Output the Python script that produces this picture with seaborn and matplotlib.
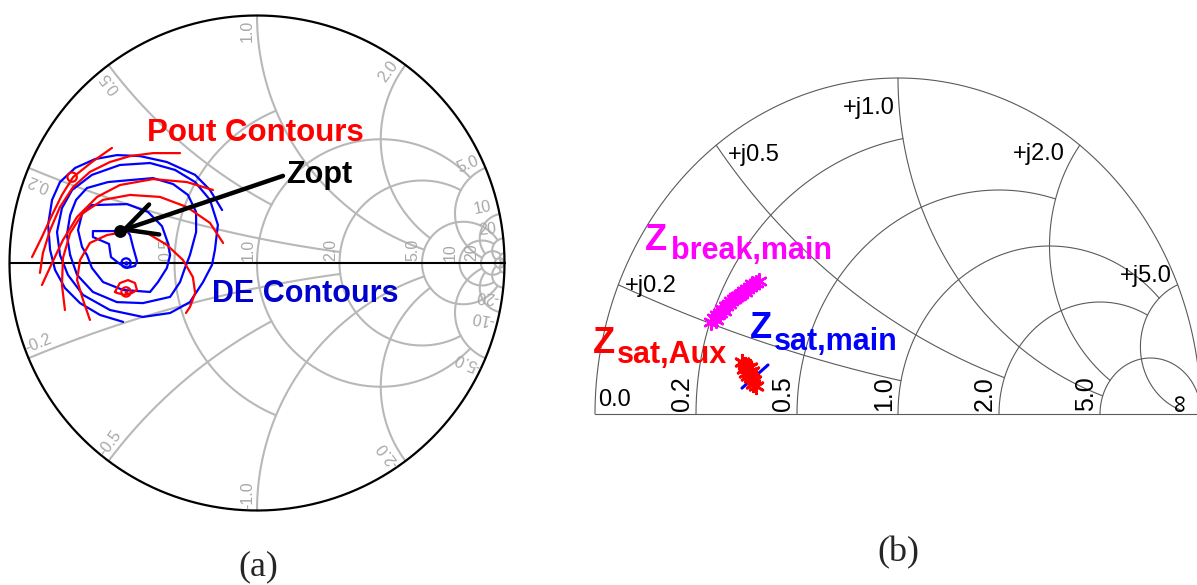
import numpy as np
import pandas as pd
import matplotlib
matplotlib.use("Agg")
import matplotlib.pyplot as plt
import seaborn as sns

sns.set_theme(style="white")
plt.rcParams["font.family"] = ["Liberation Sans", "DejaVu Sans"]

# ---------------- (a) load-pull smith chart ----------------
# grid circles and the value of the other family where each one stops
a_res_vals = [0.5, 1.0, 2.0, 5.0, 10.0, 20.0, 50.0]
a_res_stop = [1.0, 5.0, 5.0, 20.0, 20.0, 50.0, np.inf]
a_reac_vals = [0.2, 0.5, 1.0, 2.0, 5.0, 10.0, 20.0, 50.0]
a_reac_stop = [2.0, 1.0, 5.0, 5.0, 20.0, 20.0, 50.0, np.inf]
a_res_labels = ["0.5", "1.0", "2.0", "5.0", "10", "20"]
a_reac_up = ["0.2", "0.5", "1.0", "2.0", "5.0", "10", "20"]
a_reac_dn = ["-0.2", "-0.5", "-1.0", "-2.0", "-5.0", "-10", "-20"]

# contours as reflection coefficient (re, im)
de_1_re = [-0.554, -0.663, -0.663, -0.598, -0.590, -0.554, -0.525, -0.493, -0.485, -0.501, -0.513, -0.525]
de_1_im = [0.129, 0.129, 0.105, 0.077, 0.024, -0.004, -0.020, -0.012, 0.008, 0.065, 0.113, 0.129]
de_2_re = [-0.667, -0.525, -0.440, -0.384, -0.360, -0.351, -0.364, -0.400, -0.432, -0.541, -0.622, -0.667, -0.687, -0.707, -0.723, -0.707, -0.667]
de_2_im = [0.234, 0.238, 0.206, 0.149, 0.081, 0.032, -0.020, -0.077, -0.117, -0.109, -0.077, -0.020, 0.032, 0.065, 0.133, 0.198, 0.234]
de_3_re = [-0.755, -0.768, -0.755, -0.731, -0.687, -0.602, -0.513, -0.420, -0.339, -0.279, -0.246, -0.246, -0.271, -0.291, -0.311, -0.351, -0.461, -0.566, -0.663, -0.727, -0.755]
de_3_im = [0.032, 0.113, 0.194, 0.255, 0.303, 0.327, 0.335, 0.343, 0.319, 0.275, 0.206, 0.125, 0.032, -0.020, -0.077, -0.137, -0.162, -0.158, -0.117, -0.048, 0.032]
de_4_re = [-0.796, -0.808, -0.788, -0.747, -0.667, -0.554, -0.432, -0.331, -0.250, -0.190, -0.158, -0.170, -0.182, -0.218, -0.271, -0.351, -0.461, -0.594, -0.703, -0.764, -0.796]
de_4_im = [0.032, 0.125, 0.222, 0.295, 0.356, 0.396, 0.404, 0.376, 0.327, 0.255, 0.154, 0.053, -0.008, -0.077, -0.158, -0.202, -0.218, -0.190, -0.129, -0.048, 0.032]
de_5_re = [-0.141, -0.190, -0.250, -0.364, -0.473, -0.566, -0.654, -0.735, -0.796, -0.828, -0.844, -0.836, -0.816, -0.776, -0.715, -0.634, -0.541]
de_5_im = [0.214, 0.295, 0.356, 0.408, 0.432, 0.436, 0.420, 0.384, 0.327, 0.255, 0.154, 0.053, -0.028, -0.101, -0.162, -0.210, -0.238]

pout_1_re = [-0.574, -0.554, -0.521, -0.493, -0.485, -0.505, -0.533, -0.566, -0.574]
pout_1_im = [-0.117, -0.081, -0.069, -0.081, -0.109, -0.121, -0.129, -0.121, -0.117]
pout_2_re = [-0.675, -0.703, -0.727, -0.715, -0.675, -0.606, -0.513, -0.444, -0.364, -0.299, -0.259, -0.250, -0.271, -0.287]
pout_2_im = [-0.230, -0.149, -0.069, 0.012, 0.081, 0.113, 0.129, 0.121, 0.073, 0.012, -0.057, -0.121, -0.178, -0.202]
pout_3_re = [-0.137, -0.190, -0.283, -0.392, -0.513, -0.622, -0.703, -0.755, -0.784, -0.788, -0.776]
pout_3_im = [0.081, 0.162, 0.226, 0.267, 0.275, 0.255, 0.202, 0.121, 0.020, -0.089, -0.190]
pout_4_re = [-0.178, -0.283, -0.420, -0.554, -0.646, -0.727, -0.784, -0.828, -0.869]
pout_4_im = [0.295, 0.327, 0.339, 0.315, 0.267, 0.186, 0.093, 0.000, -0.089]
pout_5_re = [-0.311, -0.420, -0.513, -0.594, -0.675, -0.743, -0.796, -0.836, -0.865, -0.877]
pout_5_im = [0.444, 0.444, 0.432, 0.408, 0.368, 0.307, 0.226, 0.133, 0.040, -0.040]
pout_6_re = [-0.586, -0.667, -0.743, -0.788, -0.828, -0.869, -0.909]
pout_6_im = [0.465, 0.408, 0.347, 0.275, 0.194, 0.105, 0.024]

pout_rings_re = [-0.747, -0.529]
pout_rings_im = [0.347, -0.117]
de_ring_re = [-0.529]
de_ring_im = [0.0]
zopt_re = [-0.554]
zopt_im = [0.129]

# ---------------- (b) impedance trajectories ----------------
b_vals = [0.2, 0.5, 1.0, 2.0, 5.0]
b_stop = [1.0, 2.0, 5.0, 5.0, 30.0]
b_res_labels = ["0.2", "0.5", "1.0", "2.0", "5.0"]
b_reac_labels = ["+j0.2", "+j0.5", "+j1.0", "+j2.0", "+j5.0"]

zbreak_re = [-0.617, -0.607, -0.597, -0.587, -0.581, -0.568, -0.558, -0.551, -0.541, -0.528, -0.518,
             -0.508, -0.498, -0.488, -0.479, -0.469, -0.459, -0.601, -0.574, -0.535, -0.505, -0.482]
zbreak_im = [0.274, 0.286, 0.295, 0.301, 0.312, 0.321, 0.327, 0.336, 0.342, 0.351, 0.357,
             0.366, 0.372, 0.378, 0.384, 0.390, 0.396, 0.280, 0.307, 0.348, 0.363, 0.387]
zsat_aux_re = [-0.515, -0.505, -0.498, -0.508, -0.492, -0.482, -0.495, -0.485, -0.475, -0.479, -0.469, -0.502, -0.488]
zsat_aux_im = [0.155, 0.146, 0.137, 0.134, 0.125, 0.128, 0.113, 0.107, 0.101, 0.089, 0.083, 0.122, 0.140]
zsat_main_re = [-0.515, -0.429]
zsat_main_im = [0.077, 0.146]


def gamma(z):
    return (z - 1) / (z + 1)


def res_arc(r, stop, upper=False):
    top = min(np.arctan(stop), np.pi / 2 - 1e-4)
    t = np.linspace(0 if upper else -top, top, 600)
    g = gamma(r + 1j * np.tan(t))
    return g.real, g.imag


def reac_arc(x, stop):
    top = min(np.arctan(stop), np.pi / 2 - 1e-4)
    t = np.linspace(0, top, 600)
    g = gamma(np.tan(t) + 1j * x)
    return g.real, g.imag


W, H = 1197, 585
fig = plt.figure(figsize=(W / 100, H / 100), dpi=100)
fig.patch.set_facecolor("white")

# panel (a) axes, unit circle centred at px (257, 263), radius 247.5 px
R_a, cx_a, cy_a, m = 247.5, 257, 263, 1.035
ax_a = fig.add_axes([(cx_a - R_a * m) / W, (H - cy_a - R_a * m) / H, 2 * R_a * m / W, 2 * R_a * m / H])
ax_a.set_xlim(-m, m)
ax_a.set_ylim(-m, m)
ax_a.axis("off")

grid_a = "#b8b8b8"
for r, s in zip(a_res_vals, a_res_stop):
    gx, gy = res_arc(r, s)
    ax_a.plot(gx, gy, color=grid_a, lw=1.5, zorder=1)
for x, s in zip(a_reac_vals, a_reac_stop):
    gx, gy = reac_arc(x, s)
    ax_a.plot(gx, gy, color=grid_a, lw=1.5, zorder=1)
    ax_a.plot(gx, -gy, color=grid_a, lw=1.5, zorder=1)

phi = np.linspace(0, 2 * np.pi, 800)
ax_a.plot(np.cos(phi), np.sin(phi), color="black", lw=1.6, zorder=2)
ax_a.plot([-1, 1], [0, 0], color="black", lw=1.5, zorder=2)

for r, lab in zip(a_res_vals, a_res_labels):
    ax_a.text((r - 1) / (r + 1) - 9 / R_a, 2 / R_a, lab, rotation=90, ha="center", va="bottom",
              fontsize=11.5, color="#a8a8a8", zorder=1)
d = np.deg2rad(2.4)
for x, up, dn in zip(a_reac_vals, a_reac_up, a_reac_dn):
    th = np.angle(gamma(1j * x))
    ax_a.text(0.94 * np.cos(th + d), 0.94 * np.sin(th + d), up, rotation=np.degrees(th),
              rotation_mode="anchor", ha="center", va="center", fontsize=11.5, color="#a8a8a8")
    ax_a.text(0.94 * np.cos(-th - d), 0.94 * np.sin(-th - d), dn, rotation=180 - np.degrees(th),
              rotation_mode="anchor", ha="center", va="center", fontsize=11.5, color="#a8a8a8")

rows = []
for name, kind, re, im in [
    ("de1", "DE", de_1_re, de_1_im), ("de2", "DE", de_2_re, de_2_im), ("de3", "DE", de_3_re, de_3_im),
    ("de4", "DE", de_4_re, de_4_im), ("de5", "DE", de_5_re, de_5_im),
    ("p1", "Pout", pout_1_re, pout_1_im), ("p2", "Pout", pout_2_re, pout_2_im),
    ("p3", "Pout", pout_3_re, pout_3_im), ("p4", "Pout", pout_4_re, pout_4_im),
    ("p5", "Pout", pout_5_re, pout_5_im), ("p6", "Pout", pout_6_re, pout_6_im)]:
    for k, (a, b) in enumerate(zip(re, im)):
        rows.append({"curve": name, "kind": kind, "order": k, "re": a, "im": b})
contours = pd.DataFrame(rows)
sns.lineplot(data=contours, x="re", y="im", hue="kind", units="curve", estimator=None, sort=False,
             palette={"DE": "#0000ff", "Pout": "#ff0000"}, lw=1.6, legend=False, ax=ax_a, zorder=3)

sns.scatterplot(x=pout_rings_re, y=pout_rings_im, marker="o", s=45, facecolor="none",
                edgecolor="#ff0000", linewidth=1.6, ax=ax_a, zorder=4)
sns.scatterplot(x=pout_rings_re[1:], y=pout_rings_im[1:], marker="o", s=8, color="#ff0000",
                linewidth=0, ax=ax_a, zorder=4)
sns.scatterplot(x=de_ring_re, y=de_ring_im, marker="o", s=45, facecolor="none",
                edgecolor="#0000ff", linewidth=1.6, ax=ax_a, zorder=4)
sns.scatterplot(x=de_ring_re, y=de_ring_im, marker="o", s=10, color="#0000ff", linewidth=0, ax=ax_a, zorder=4)
sns.scatterplot(x=zopt_re, y=zopt_im, marker="o", s=85, color="black", linewidth=0, ax=ax_a, zorder=6)

ax_a.annotate("", xy=(zopt_re[0], zopt_im[0]), xytext=(0.105, 0.352),
              arrowprops=dict(arrowstyle="->,head_length=0.75,head_width=0.38", lw=3.2, color="black",
                              shrinkA=0, shrinkB=0, mutation_scale=30), zorder=6)
ax_a.text(0.117, 0.323, "Zopt", fontsize=22, fontweight="bold", color="black", va="baseline", zorder=6)
ax_a.text(-0.444, 0.493, "Pout Contours", fontsize=22.5, fontweight="bold", color="#ff0000", va="baseline", zorder=6)
ax_a.text(-0.182, -0.158, "DE Contours", fontsize=22, fontweight="bold", color="#0000cc", va="baseline", zorder=6)

# panel (b) axes, chart centre at px (898, 414), radii 303 x 336 px
cx_b, cy_b, rx_b, ry_b = 898, 414, 303, 336
left_px, right_px, top_px, bot_px = 585, 1197, 60, 430
ax_b = fig.add_axes([left_px / W, (H - bot_px) / H, (right_px - left_px) / W, (bot_px - top_px) / H])
ax_b.set_xlim((left_px - cx_b) / rx_b, (right_px - cx_b) / rx_b)
ax_b.set_ylim((cy_b - bot_px) / ry_b, (cy_b - top_px) / ry_b)
ax_b.axis("off")

grid_b = "#5a5a5a"
half = np.linspace(0, np.pi, 600)
ax_b.plot(np.cos(half), np.sin(half), color=grid_b, lw=0.8)
ax_b.plot([-1, 1], [0, 0], color=grid_b, lw=0.8)
for v, s in zip(b_vals, b_stop):
    gx, gy = res_arc(v, s, upper=True)
    ax_b.plot(gx, gy, color=grid_b, lw=0.8)
    gx, gy = reac_arc(v, s)
    ax_b.plot(gx, gy, color=grid_b, lw=0.8)

lab_offsets = [(7, -1, "left"), (12, -10, "left"), (-3, -30, "right"), (-15, -9, "right"), (-6, 9, "right")]
for v, lab, (dx, dy, ha) in zip(b_vals, b_reac_labels, lab_offsets):
    g = gamma(1j * v)
    ax_b.annotate(lab, (g.real, g.imag), xytext=(dx, dy), textcoords="offset pixels",
                  ha=ha, va="center", fontsize=17, color="black")
for v, lab in zip(b_vals, b_res_labels):
    ax_b.annotate(lab, ((v - 1) / (v + 1), 0), xytext=(-2, 3), textcoords="offset pixels",
                  ha="right", va="bottom", rotation=90, fontsize=18, color="black")
ax_b.annotate("0.0", (-1, 0), xytext=(3, 3), textcoords="offset pixels", ha="left", va="bottom",
              fontsize=17, color="black")
ax_b.annotate("∞", (1, 0), xytext=(-10, 3), textcoords="offset pixels", ha="right", va="bottom",
              rotation=90, fontsize=18, color="black", annotation_clip=False)

sns.scatterplot(x=zbreak_re, y=zbreak_im, marker=(6, 2, 0), s=110, color="#ff00ff",
                edgecolor="#ff00ff", linewidth=1.8, ax=ax_b, zorder=4)
sns.lineplot(x=zsat_main_re, y=zsat_main_im, color="#0000ff", lw=2.2, sort=False, ax=ax_b, zorder=4)
sns.scatterplot(x=zsat_aux_re, y=zsat_aux_im, marker=(6, 2, 0), s=110, color="#ff0000",
                edgecolor="#ff0000", linewidth=2.0, ax=ax_b, zorder=5)

big, sub = 26, 22
for txt, x0, y0, c, fs in [
    ("Z", 645, 250, "#ff00ff", big), ("break,main", 671, 259, "#ff00ff", sub),
    ("Z", 750, 338, "#0000ff", big), ("sat,main", 774, 350, "#0000ff", sub),
    ("Z", 593, 353, "#ff0000", big), ("sat,Aux", 617, 363, "#ff0000", sub)]:
    fig.text(x0 / W, 1 - y0 / H, txt, fontsize=fs, fontweight="bold", color=c, va="baseline", ha="left")

fig.text(258 / W, 1 - 567 / H, "(a)", fontsize=26, family=["Liberation Serif"], ha="center", va="center")
fig.text(898 / W, 1 - 553 / H, "(b)", fontsize=26, family=["Liberation Serif"], ha="center", va="center")

fig.savefig("out.png", dpi=100, facecolor="white")
